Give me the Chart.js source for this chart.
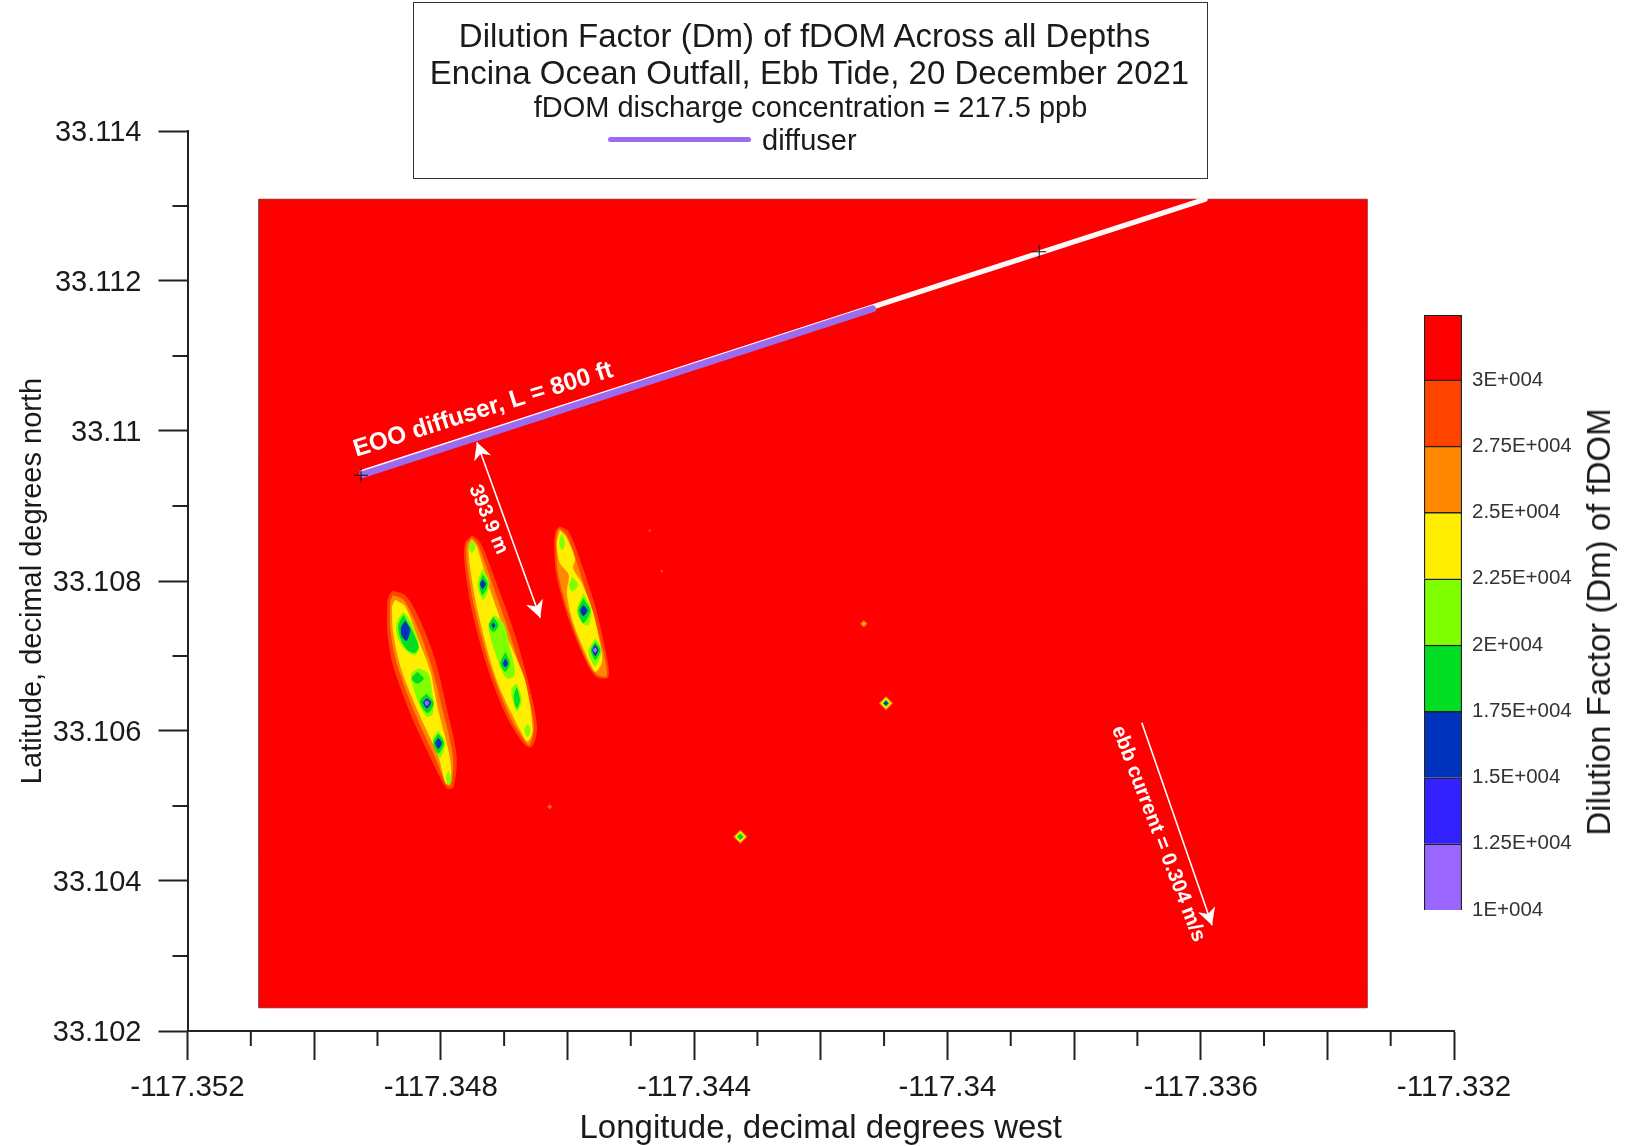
<!DOCTYPE html>
<html>
<head>
<meta charset="utf-8">
<title>Dilution Factor (Dm) of fDOM</title>
<script src="https://cdn.jsdelivr.net/npm/chart.js@4/dist/chart.umd.min.js"></script>
<style>
    html, body { margin: 0; padding: 0; background: #fff; }
    body { width: 1639px; height: 1146px; position: relative; overflow: hidden; font-family: 'Liberation Sans', Arial, sans-serif; color: #1a1a1a; }
    canvas { position: absolute; }
    #mapa { left: 0; top: 0; }
    #escala { left: 1400px; top: 280px; }
    #caixa { position: absolute; left: 413px; top: 2px; width: 793px; height: 175px; border: 1.5px solid #333; text-align: center; box-sizing: content-box; }
    #caixa .linha { position: absolute; left: 0; right: 0; white-space: nowrap; }
    #linha1 { top: 15px; font-size: 33px; line-height: 36px; padding-right: 12px; }
    #linha2 { top: 52px; font-size: 33px; line-height: 36px; padding-right: 2px; }
    #linha3 { top: 87px; font-size: 29px; line-height: 34px; }
    #amostra { position: absolute; left: 194px; top: 134px; width: 143px; height: 5px; border-radius: 3px; background: #9b6bf0; }
    #rotulo { position: absolute; left: 348px; top: 120px; font-size: 29px; line-height: 34px; white-space: nowrap; }
    #tituloEscala { position: absolute; left: 1599px; top: 622px; transform: translate(-50%, -50%) rotate(-90deg); font-size: 33px; white-space: nowrap; }
</style>
</head>
<body>
<canvas id="mapa" width="1639" height="1146"></canvas>
<canvas id="escala" width="239" height="660"></canvas>
<div id="caixa">
    <div class="linha" id="linha1">Dilution Factor (Dm) of fDOM Across all Depths</div>
    <div class="linha" id="linha2">Encina Ocean Outfall, Ebb Tide, 20 December 2021</div>
    <div class="linha" id="linha3">fDOM discharge concentration = 217.5 ppb</div>
    <div id="amostra"></div>
    <div id="rotulo">diffuser</div>
</div>
<div id="tituloEscala">Dilution Factor (Dm) of fDOM</div>

<script>
// eixos
const xLongTicks = [-117.352, -117.350, -117.348, -117.346, -117.344, -117.342, -117.340, -117.338, -117.336, -117.334, -117.332];
const xShortTicks = [-117.351, -117.349, -117.347, -117.345, -117.343, -117.341, -117.339, -117.337, -117.335, -117.333];
const xTickLabels = ['-117.352', '', '-117.348', '', '-117.344', '', '-117.34', '', '-117.336', '', '-117.332'];
const yLongTicks = [33.102, 33.104, 33.106, 33.108, 33.110, 33.112, 33.114];
const yShortTicks = [33.103, 33.105, 33.107, 33.109, 33.111, 33.113];
const yTickLabels = ['33.102', '33.104', '33.106', '33.108', '33.11', '33.112', '33.114'];

// escala de cores
const niveis = [10000, 12500, 15000, 17500, 20000, 22500, 25000, 27500, 30000, 32450];
const niveisLabels = ['1E+004', '1.25E+004', '1.5E+004', '1.75E+004', '2E+004', '2.25E+004', '2.5E+004', '2.75E+004', '3E+004'];
const niveisCores = ['#9966ff', '#3322ff', '#0033bb', '#00dd22', '#80ff00', '#ffee00', '#ff8800', '#ff4400', '#ff0000'];

// area do grid e linha do emissario (lon, lat)
const gridArea = [[-117.35087, 33.10231], [-117.33337, 33.10231], [-117.33337, 33.11309], [-117.35087, 33.11309]];
const pipeline = [[-117.34924, 33.10945], [-117.33593, 33.11309]];
const diffuser = [[-117.34923, 33.10942], [-117.34118, 33.11163]];
const marcos = [[-117.34926, 33.10941], [-117.33855, 33.11239]];

// contornos das plumas (lon, lat), um array por faixa
const faixa275 = [
    [[-117.34877, 33.10787], [-117.34856, 33.10781], [-117.34833, 33.10748], [-117.34809, 33.10695], [-117.34791, 33.10632], [-117.34775, 33.10566], [-117.34780, 33.10525], [-117.34791, 33.10524], [-117.34812, 33.10557], [-117.34846, 33.10619], [-117.34875, 33.10686], [-117.34884, 33.10730], [-117.34884, 33.10775]],
    [[-117.34751, 33.10861], [-117.34738, 33.10852], [-117.34712, 33.10797], [-117.34680, 33.10721], [-117.34654, 33.10637], [-117.34648, 33.10601], [-117.34656, 33.10579], [-117.34667, 33.10581], [-117.34696, 33.10619], [-117.34727, 33.10686], [-117.34751, 33.10761], [-117.34762, 33.10819], [-117.34762, 33.10850]],
    [[-117.34612, 33.10873], [-117.34598, 33.10866], [-117.34580, 33.10828], [-117.34556, 33.10766], [-117.34541, 33.10712], [-117.34535, 33.10672], [-117.34554, 33.10672], [-117.34569, 33.10690], [-117.34596, 33.10744], [-117.34617, 33.10806], [-117.34621, 33.10850], [-117.34618, 33.10868]]
];
const faixa25 = [
    [[-117.34876, 33.10781], [-117.34859, 33.10775], [-117.34838, 33.10741], [-117.34816, 33.10690], [-117.34797, 33.10628], [-117.34781, 33.10566], [-117.34784, 33.10528], [-117.34791, 33.10528], [-117.34806, 33.10559], [-117.34841, 33.10624], [-117.34868, 33.10686], [-117.34879, 33.10730], [-117.34880, 33.10770]],
    [[-117.34751, 33.10858], [-117.34741, 33.10848], [-117.34717, 33.10792], [-117.34688, 33.10721], [-117.34659, 33.10637], [-117.34653, 33.10604], [-117.34660, 33.10581], [-117.34667, 33.10586], [-117.34691, 33.10619], [-117.34722, 33.10686], [-117.34746, 33.10761], [-117.34758, 33.10819], [-117.34759, 33.10848]],
    [[-117.34612, 33.10870], [-117.34601, 33.10861], [-117.34585, 33.10824], [-117.34562, 33.10761], [-117.34544, 33.10708], [-117.34538, 33.10673], [-117.34553, 33.10675], [-117.34567, 33.10690], [-117.34593, 33.10744], [-117.34614, 33.10806], [-117.34618, 33.10850], [-117.34616, 33.10866]]
];
const faixa225 = [
    [[-117.34872, 33.10775], [-117.34856, 33.10766], [-117.34835, 33.10721], [-117.34817, 33.10681], [-117.34804, 33.10628], [-117.34786, 33.10566], [-117.34784, 33.10535], [-117.34792, 33.10530], [-117.34804, 33.10566], [-117.34835, 33.10624], [-117.34862, 33.10681], [-117.34875, 33.10730], [-117.34877, 33.10766]],
    [[-117.34751, 33.10855], [-117.34743, 33.10846], [-117.34722, 33.10788], [-117.34693, 33.10721], [-117.34667, 33.10668], [-117.34655, 33.10601], [-117.34663, 33.10586], [-117.34675, 33.10601], [-117.34712, 33.10668], [-117.34741, 33.10757], [-117.34754, 33.10819], [-117.34756, 33.10846]],
    [[-117.34612, 33.10868], [-117.34601, 33.10857], [-117.34588, 33.10830], [-117.34591, 33.10817], [-117.34577, 33.10797], [-117.34559, 33.10757], [-117.34546, 33.10704], [-117.34546, 33.10690], [-117.34556, 33.10679], [-117.34567, 33.10695], [-117.34591, 33.10744], [-117.34601, 33.10784], [-117.34598, 33.10808], [-117.34612, 33.10824], [-117.34617, 33.10850]]
];
const faixa20 = [
    [[-117.34859, 33.10759], [-117.34846, 33.10744], [-117.34834, 33.10712], [-117.34841, 33.10701], [-117.34856, 33.10708], [-117.34868, 33.10724], [-117.34870, 33.10744]],
    [[-117.34835, 33.10684], [-117.34820, 33.10677], [-117.34814, 33.10655], [-117.34812, 33.10624], [-117.34822, 33.10619], [-117.34835, 33.10637], [-117.34846, 33.10666], [-117.34846, 33.10677]],
    [[-117.34804, 33.10601], [-117.34793, 33.10584], [-117.34801, 33.10564], [-117.34809, 33.10577], [-117.34813, 33.10590]],
    [[-117.34788, 33.10548], [-117.34783, 33.10535], [-117.34788, 33.10528], [-117.34792, 33.10537]],
    [[-117.34751, 33.10854], [-117.34745, 33.10846], [-117.34751, 33.10837], [-117.34756, 33.10846]],
    [[-117.34734, 33.10817], [-117.34723, 33.10797], [-117.34733, 33.10775], [-117.34742, 33.10795]],
    [[-117.34717, 33.10755], [-117.34701, 33.10744], [-117.34691, 33.10712], [-117.34683, 33.10675], [-117.34696, 33.10670], [-117.34712, 33.10699], [-117.34725, 33.10739]],
    [[-117.34680, 33.10664], [-117.34672, 33.10641], [-117.34680, 33.10626], [-117.34688, 33.10646], [-117.34688, 33.10657]],
    [[-117.34663, 33.10610], [-117.34658, 33.10601], [-117.34663, 33.10592], [-117.34668, 33.10601]],
    [[-117.34609, 33.10864], [-117.34604, 33.10850], [-117.34609, 33.10841], [-117.34613, 33.10852]],
    [[-117.34592, 33.10806], [-117.34583, 33.10795], [-117.34592, 33.10786], [-117.34598, 33.10795]],
    [[-117.34575, 33.10784], [-117.34562, 33.10761], [-117.34567, 33.10741], [-117.34577, 33.10744], [-117.34585, 33.10761]],
    [[-117.34556, 33.10724], [-117.34546, 33.10708], [-117.34556, 33.10686], [-117.34567, 33.10706]]
];
const faixa175 = [
    [[-117.34859, 33.10755], [-117.34847, 33.10737], [-117.34835, 33.10712], [-117.34842, 33.10704], [-117.34855, 33.10710], [-117.34864, 33.10724], [-117.34867, 33.10741]],
    [[-117.34837, 33.10679], [-117.34827, 33.10670], [-117.34837, 33.10663], [-117.34846, 33.10670]],
    [[-117.34823, 33.10650], [-117.34811, 33.10637], [-117.34821, 33.10624], [-117.34833, 33.10639]],
    [[-117.34804, 33.10597], [-117.34795, 33.10584], [-117.34804, 33.10570], [-117.34812, 33.10584]],
    [[-117.34734, 33.10809], [-117.34726, 33.10796], [-117.34734, 33.10781], [-117.34739, 33.10795]],
    [[-117.34717, 33.10752], [-117.34709, 33.10741], [-117.34717, 33.10732], [-117.34724, 33.10741]],
    [[-117.34698, 33.10706], [-117.34691, 33.10690], [-117.34698, 33.10679], [-117.34706, 33.10690]],
    [[-117.34680, 33.10659], [-117.34675, 33.10641], [-117.34680, 33.10630], [-117.34685, 33.10646]],
    [[-117.34575, 33.10777], [-117.34564, 33.10761], [-117.34575, 33.10744], [-117.34583, 33.10761]],
    [[-117.34556, 33.10719], [-117.34548, 33.10708], [-117.34556, 33.10695], [-117.34563, 33.10708]]
];
const faixa15 = [
    [[-117.34856, 33.10747], [-117.34848, 33.10735], [-117.34854, 33.10720], [-117.34862, 33.10727], [-117.34863, 33.10738]],
    [[-117.34822, 33.10644], [-117.34815, 33.10638], [-117.34822, 33.10630], [-117.34828, 33.10638]],
    [[-117.34804, 33.10591], [-117.34798, 33.10584], [-117.34804, 33.10576], [-117.34809, 33.10584]],
    [[-117.34734, 33.10802], [-117.34729, 33.10796], [-117.34734, 33.10789], [-117.34738, 33.10796]],
    [[-117.34717, 33.10745], [-117.34714, 33.10741], [-117.34717, 33.10737], [-117.34720, 33.10741]],
    [[-117.34698, 33.10697], [-117.34694, 33.10690], [-117.34698, 33.10685], [-117.34702, 33.10690]],
    [[-117.34575, 33.10768], [-117.34568, 33.10761], [-117.34575, 33.10753], [-117.34580, 33.10761]],
    [[-117.34556, 33.10715], [-117.34551, 33.10708], [-117.34556, 33.10700], [-117.34561, 33.10708]]
];
const faixa125 = [
    [[-117.34822, 33.10641], [-117.34818, 33.10638], [-117.34822, 33.10633], [-117.34826, 33.10638]],
    [[-117.34556, 33.10712], [-117.34553, 33.10708], [-117.34556, 33.10704], [-117.34560, 33.10708]]
];

// manchas pequenas (lon, lat)
const manchasGrandes = [[-117.34097, 33.10637], [-117.34327, 33.10459]];
const manchaMedia = [[-117.34132, 33.10743]];
const manchaMenor = [[-117.34628, 33.10499]];
const manchasAzul = [[-117.34097, 33.10637]];
const manchasTenues = [[-117.34470, 33.10867], [-117.34451, 33.10813]];

// setas e textos brancos sobre o mapa (lon, lat)
const setaDistancia = [[-117.34743, 33.10985], [-117.34643, 33.10751]];
const setaCorrente = [[-117.33693, 33.10611], [-117.33582, 33.10341]];
const textos = ['EOO diffuser, L = 800 ft', '393.9 m', 'ebb current = 0.304 m/s'];
const textosPos = [[-117.34733, 33.11028], [-117.34725, 33.10882], [-117.33667, 33.10463]];
const textosAngulo = [-17.3, 67, 69];
const textosFonte = [24.5, 20, 20.6];

const toXY = p => ({ x: p[0], y: p[1] });
const datasets = [];

function addRing(ring, cor, tension) {
    datasets.push({
        type: 'scatter',
        data: ring.concat([ring[0]]).map(toXY),
        showLine: true,
        fill: 'shape',
        backgroundColor: cor,
        borderWidth: 0,
        pointRadius: 0,
        tension: tension
    });
}

function addLine(pontos, cor, largura) {
    datasets.push({
        type: 'scatter',
        data: pontos.map(toXY),
        showLine: true,
        fill: false,
        borderColor: cor,
        borderWidth: largura,
        borderCapStyle: 'round',
        pointRadius: 0
    });
}

function addPoints(pontos, cor, raio, estilo) {
    datasets.push({
        type: 'scatter',
        data: pontos.map(toXY),
        pointStyle: estilo || 'rectRot',
        pointRadius: raio,
        pointBackgroundColor: cor,
        pointBorderColor: cor,
        pointBorderWidth: estilo ? 1 : 0
    });
}

// fundo vermelho primeiro, depois as faixas de fora para dentro
datasets.push({
    type: 'scatter',
    data: gridArea.concat([gridArea[0]]).map(toXY),
    showLine: true,
    fill: 'shape',
    backgroundColor: '#ff0000',
    borderColor: '#a82020',
    borderWidth: 1,
    pointRadius: 0
});
faixa275.forEach(r => addRing(r, niveisCores[7], 0.3));
faixa25.forEach(r => addRing(r, niveisCores[6], 0.3));
faixa225.forEach(r => addRing(r, niveisCores[5], 0.3));
faixa20.forEach(r => addRing(r, niveisCores[4], 0.3));
faixa175.forEach(r => addRing(r, niveisCores[3], 0.3));
faixa15.forEach(r => addRing(r, niveisCores[2], 0.2));
faixa125.forEach(r => addRing(r, niveisCores[0], 0.2));

addPoints(manchasTenues, '#ff5500', 1.5);
addPoints(manchaMenor, '#ff6a00', 2.5);
addPoints(manchaMedia, '#ff8800', 3.5);
addPoints(manchaMedia, '#ffd000', 1.5);
addPoints(manchasGrandes, niveisCores[6], 7);
addPoints(manchasGrandes, niveisCores[5], 5.5);
addPoints(manchasGrandes, niveisCores[3], 3.5);
addPoints(manchasAzul, niveisCores[2], 2.2);

addLine(pipeline, '#fff8f8', 5);
addLine(diffuser, '#9b6bf0', 7);
addPoints(marcos, '#111', 7, 'cross');

datasets.forEach((d, i) => { d.order = datasets.length - i; });

function drawArrow(ctx, x, y, seta) {
    const x0 = x.getPixelForValue(seta[0][0]), y0 = y.getPixelForValue(seta[0][1]);
    const x1 = x.getPixelForValue(seta[1][0]), y1 = y.getPixelForValue(seta[1][1]);
    ctx.beginPath();
    ctx.moveTo(x0, y0);
    ctx.lineTo(x1, y1);
    ctx.stroke();
    return Math.atan2(y1 - y0, x1 - x0);
}

function drawHead(ctx, px, py, ang) {
    ctx.save();
    ctx.translate(px, py);
    ctx.rotate(ang);
    ctx.beginPath();
    ctx.moveTo(0, 0);
    ctx.lineTo(-17, -9);
    ctx.lineTo(-12, 0);
    ctx.lineTo(-17, 9);
    ctx.closePath();
    ctx.fill();
    ctx.restore();
}

const anotacoes = {
    id: 'anotacoes',
    afterDatasetsDraw(chart) {
        const ctx = chart.ctx;
        const x = chart.scales.x, y = chart.scales.y;
        ctx.save();
        ctx.strokeStyle = '#fff';
        ctx.fillStyle = '#fff';
        ctx.lineWidth = 1.6;

        const a1 = drawArrow(ctx, x, y, setaDistancia);
        drawHead(ctx, x.getPixelForValue(setaDistancia[1][0]), y.getPixelForValue(setaDistancia[1][1]), a1);
        drawHead(ctx, x.getPixelForValue(setaDistancia[0][0]), y.getPixelForValue(setaDistancia[0][1]), a1 + Math.PI);
        const a2 = drawArrow(ctx, x, y, setaCorrente);
        drawHead(ctx, x.getPixelForValue(setaCorrente[1][0]), y.getPixelForValue(setaCorrente[1][1]), a2);

        ctx.textAlign = 'center';
        ctx.textBaseline = 'middle';
        textos.forEach((t, i) => {
            ctx.save();
            ctx.translate(x.getPixelForValue(textosPos[i][0]), y.getPixelForValue(textosPos[i][1]));
            ctx.rotate(textosAngulo[i] * Math.PI / 180);
            ctx.font = 'bold ' + textosFonte[i] + 'px "Liberation Sans"';
            ctx.fillText(t, 0, 0);
            ctx.restore();
        });
        ctx.restore();
    },
    // ticks curtos, o chart.js so tem um comprimento por eixo
    afterDraw(chart) {
        const ctx = chart.ctx;
        const x = chart.scales.x, y = chart.scales.y;
        ctx.save();
        ctx.strokeStyle = '#222';
        ctx.lineWidth = 2;
        ctx.beginPath();
        xShortTicks.forEach(v => {
            const px = x.getPixelForValue(v);
            ctx.moveTo(px, y.bottom);
            ctx.lineTo(px, y.bottom + 15);
        });
        yShortTicks.forEach(v => {
            const py = y.getPixelForValue(v);
            ctx.moveTo(x.left, py);
            ctx.lineTo(x.left - 15, py);
        });
        ctx.stroke();
        ctx.restore();
    }
};

const eixoGrid = {
    drawOnChartArea: false,
    tickLength: 29,
    tickWidth: 2,
    tickColor: '#222'
};

new Chart(document.getElementById('mapa'), {
    data: { datasets: datasets },
    plugins: [anotacoes],
    options: {
        responsive: false,
        animation: false,
        layout: { padding: { left: 0, top: 131, right: 185, bottom: 0 } },
        plugins: { legend: { display: false }, tooltip: { enabled: false } },
        scales: {
            x: {
                type: 'linear',
                min: -117.352,
                max: -117.332,
                afterBuildTicks: s => { s.ticks = xLongTicks.map(v => ({ value: v })); },
                afterFit: s => { s.height = 115; },
                grid: eixoGrid,
                border: { color: '#222', width: 2 },
                ticks: {
                    autoSkip: false,
                    maxRotation: 0,
                    padding: 10.5,
                    color: '#1a1a1a',
                    font: { family: 'Liberation Sans', size: 29.5 },
                    callback: (v, i) => xTickLabels[i]
                },
                title: {
                    display: true,
                    text: 'Longitude, decimal degrees west',
                    color: '#1a1a1a',
                    font: { family: 'Liberation Sans', size: 33, lineHeight: 1 },
                    padding: { top: 0, bottom: 1 }
                }
            },
            y: {
                type: 'linear',
                min: 33.102,
                max: 33.114,
                afterBuildTicks: s => { s.ticks = yLongTicks.map(v => ({ value: v })); },
                afterFit: s => { s.width = 187.5; },
                grid: eixoGrid,
                border: { color: '#222', width: 2 },
                ticks: {
                    autoSkip: false,
                    padding: 17,
                    labelOffset: 1.5,
                    color: '#1a1a1a',
                    font: { family: 'Liberation Sans', size: 29 },
                    callback: (v, i) => yTickLabels[i]
                },
                title: {
                    display: true,
                    text: 'Latitude, decimal degrees north',
                    color: '#1a1a1a',
                    font: { family: 'Liberation Sans', size: 29 },
                    padding: { top: 16, bottom: 0 }
                }
            }
        }
    }
});

// barra de cores, cada faixa e uma barra flutuante
new Chart(document.getElementById('escala'), {
    type: 'bar',
    data: {
        labels: ['Dm'],
        datasets: niveisCores.map((cor, i) => ({
            data: [[niveis[i], niveis[i + 1]]],
            backgroundColor: cor,
            borderColor: '#222',
            borderWidth: 1.5,
            barPercentage: 1,
            categoryPercentage: 1,
            grouped: false
        }))
    },
    options: {
        responsive: false,
        animation: false,
        layout: { padding: { left: 24, top: 35, right: 0, bottom: 30 } },
        plugins: { legend: { display: false }, tooltip: { enabled: false } },
        scales: {
            x: { display: false },
            y: {
                position: 'right',
                min: niveis[0],
                max: niveis[niveis.length - 1],
                afterBuildTicks: s => { s.ticks = niveis.slice(0, 9).map(v => ({ value: v })); },
                afterFit: s => { s.width = 177; },
                grid: { display: false, drawTicks: false, tickLength: 0 },
                border: { display: false },
                ticks: {
                    autoSkip: false,
                    padding: 10,
                    color: '#333',
                    font: { family: 'Liberation Sans', size: 20.5 },
                    callback: (v, i) => niveisLabels[i]
                }
            }
        }
    }
});
</script>
</body>
</html>
